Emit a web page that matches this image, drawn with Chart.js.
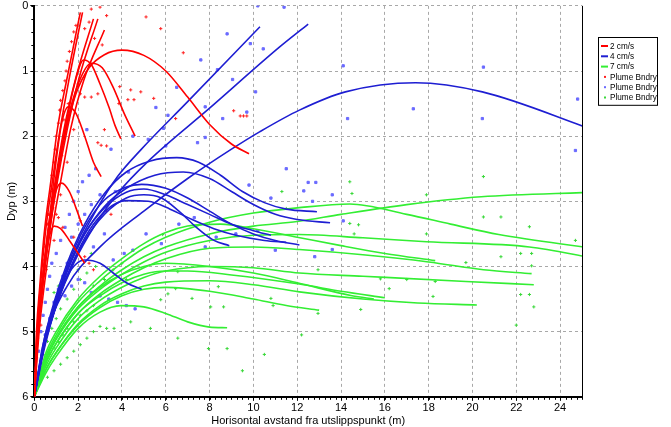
<!DOCTYPE html>
<html>
<head>
<meta charset="utf-8">
<script src="https://cdn.jsdelivr.net/npm/chart.js@4.4.1/dist/chart.umd.min.js"></script>
<style>
  html, body { margin: 0; padding: 0; background: #fff; }
</style>
</head>
<body>
<canvas id="plume" width="671" height="427"></canvas>
<script>
// horisontal avstand (m), dyp (m)
const red2cms = [
  [[0,6],[0.1,5],[0.25,4.3],[0.45,3.5],[0.75,2.7],[1.05,1.9],[1.5,1.1],[2.1,0.1]],
  [[0,6],[0.12,5],[0.28,4.3],[0.5,3.5],[0.8,2.75],[1.15,1.95],[1.6,1.1],[2.2,0.1]],
  [[0,6],[0.15,5],[0.33,4.3],[0.6,3.5],[0.95,2.7],[1.35,1.9],[1.9,1.1],[2.7,0.2]],
  [[0,6],[0.18,5],[0.38,4.3],[0.68,3.5],[1.05,2.7],[1.5,1.9],[2.05,1.1],[2.9,0.2]],
  [[0,6],[0.22,5],[0.45,4.3],[0.78,3.5],[1.2,2.7],[1.65,1.9],[2.25,1.15],[3.2,0.37]],
  [[0,6],[0.18,5],[0.38,4.3],[0.68,3.5],[1.02,2.7],[1.42,1.95],[1.9,1.35],[2.5,0.95],[3.2,0.75],[4,0.68],[5,0.76],[6,1.0],[7,1.4],[8,1.82],[9,2.12],[9.8,2.27]],
  [[0,6],[0.15,5],[0.35,4.3],[0.62,3.5],[0.98,2.7],[1.4,1.9],[1.8,1.25],[2.25,0.83],[2.6,0.9],[3.0,1.2],[3.4,1.55],[3.7,1.85],[3.95,2.04]],
  [[0,6],[0.17,5],[0.37,4.3],[0.65,3.5],[1.0,2.7],[1.45,1.85],[2.0,1.2],[2.6,0.88],[3.1,0.95],[3.6,1.25],[4.1,1.65],[4.6,2.0]],
  [[0,6],[0.15,5],[0.35,4.3],[0.62,3.5],[0.95,2.5],[1.25,1.8],[1.55,1.55],[1.9,1.65],[2.3,2.0],[2.7,2.4],[3.05,2.62]],
  [[0,6],[0.15,5],[0.4,4.2],[0.7,3.4],[0.98,2.85],[1.25,2.72],[1.6,2.85],[1.9,3.1],[2.2,3.38]],
  [[0,6],[0.15,5],[0.4,4.2],[0.65,3.6],[0.9,3.38],[1.2,3.42],[1.6,3.6],[2.0,3.8],[2.3,3.95]]
];

const blue4cms = [
  [[0,6],[0.4,5.2],[1,4.5],[1.8,3.8],[2.8,3.15],[3.8,2.62],[4.86,2.21],[7,1.47],[10.3,0.32]],
  [[0,6],[0.4,5.25],[1,4.6],[1.8,3.95],[2.8,3.35],[3.8,2.88],[5.18,2.39],[8,1.57],[11.2,0.63],[12.5,0.28]],
  [[0,6],[0.6,5.0],[1.5,4.3],[3,3.7],[5,3.15],[7,2.65],[9,2.2],[10.3,1.93],[12.1,1.6],[14.2,1.32],[17.4,1.18],[20.45,1.32],[25.5,1.9]],
  [[0,6],[0.4,5.2],[0.9,4.55],[1.5,3.95],[2.3,3.35],[3.2,2.88],[4.2,2.55],[5.3,2.38],[6.5,2.33],[7.5,2.4],[8.5,2.6],[9.5,2.85],[10.5,3.02],[11.5,3.12],[12.9,3.16]],
  [[0,6],[0.4,5.25],[0.9,4.6],[1.5,4.05],[2.3,3.5],[3.2,3.08],[4.2,2.8],[5.5,2.6],[6.8,2.55],[8,2.65],[9,2.85],[10,3.05],[11,3.2],[12,3.28],[13.5,3.33]],
  [[0,6],[0.4,5.25],[0.9,4.6],[1.5,4.0],[2.3,3.4],[3.2,2.98],[4.2,2.78],[4.9,2.74],[6,2.8],[7,2.95],[8,3.15],[9,3.35],[10,3.5],[11,3.6],[12.1,3.67]],
  [[0,6],[0.4,5.3],[0.9,4.7],[1.5,4.15],[2.3,3.6],[3.2,3.2],[4.2,2.95],[5,2.9],[5.8,2.95],[6.6,3.15],[7.4,3.4],[8.2,3.6],[8.9,3.68]],
  [[0,6],[0.4,5.25],[0.9,4.65],[1.5,4.08],[2.3,3.5],[3.2,3.1],[4.2,2.86],[5,2.81],[6,2.9],[7,3.05],[8,3.2],[9,3.35],[10,3.45],[10.8,3.52]],
  [[0,6],[0.5,5.2],[1,4.6],[1.7,3.98],[2.5,3.45],[3.3,3.13],[4.2,2.99],[5.2,3.0],[6.2,3.12],[7.2,3.28],[8.2,3.42],[9.2,3.52],[10.5,3.6],[11.5,3.63]],
  [[0,6],[0.4,5.3],[0.9,4.7],[1.5,4.15],[2.3,3.9],[3,3.95],[3.6,4.1],[4.2,4.25],[4.9,4.35]]
];

const green7cms = [
  [[0,6],[0.5,5.45],[1,5.1],[2,4.62],[3,4.3],[4,4.05],[5,3.85],[6,3.7],[8,3.5],[10,3.38],[12,3.31],[14,3.2],[17,3.05],[20.4,2.93],[25.5,2.86]],
  [[0,6],[0.5,5.4],[1,5.05],[2,4.55],[3,4.22],[4,3.95],[5,3.72],[6,3.55],[8,3.32],[10,3.18],[12,3.1],[14.4,3.04],[17,3.2],[19,3.35],[21.2,3.51],[25.5,3.72]],
  [[0,6],[0.5,5.45],[1,5.12],[2,4.65],[3,4.35],[4,4.12],[5,3.93],[6,3.78],[8,3.6],[10,3.52],[12.1,3.51],[15,3.56],[17.9,3.62],[22.6,3.7],[25.5,3.87]],
  [[0,6],[0.5,5.5],[1,5.18],[2,4.72],[3,4.42],[4,4.2],[5,4.02],[6,3.88],[8,3.72],[10,3.7],[12.1,3.74],[15,3.82],[18,3.93],[20.5,4.05],[22.7,4.11]],
  [[0,6],[0.5,5.55],[1,5.25],[2,4.8],[3,4.52],[4,4.32],[5,4.17],[6,4.07],[8,4.0],[10,4.02],[12.1,4.1],[15,4.15],[19.7,4.23],[22.8,4.28]],
  [[0,6],[0.5,5.6],[1,5.32],[2,4.88],[3,4.6],[4,4.42],[5,4.3],[6,4.24],[8,4.22],[10,4.28],[12.1,4.39],[15,4.5],[17.5,4.56],[20.2,4.59]],
  [[0,6],[0.5,5.35],[1,5.0],[2,4.5],[3,4.15],[4,3.88],[5,3.65],[6,3.48],[7,3.38],[8.5,3.35],[10,3.42],[12,3.55],[14,3.68],[16,3.8],[18.3,3.91]],
  [[0,6],[0.5,5.5],[1,5.18],[2,4.72],[3,4.45],[4,4.25],[5,4.12],[6,4.07],[7,4.07],[9,4.13],[12.1,4.27],[14,4.38],[16,4.48]],
  [[0,6],[0.5,5.6],[1,5.32],[2,4.9],[3,4.63],[4,4.45],[5,4.35],[6,4.32],[8,4.38],[10,4.5],[11.5,4.6],[13,4.67]],
  [[0,6],[0.5,5.65],[1,5.38],[2,4.95],[3,4.7],[3.95,4.6],[5,4.62],[6,4.72],[7,4.85],[8,4.93],[8.8,4.94]],
  [[0,6],[0.5,5.45],[1,5.1],[2,4.62],[3,4.32],[4,4.12],[5,4.0],[6,3.95],[8,4.0],[10,4.1],[12,4.25],[14.5,4.45],[15.5,4.5]]
];

const redBndry = [[0.05,5.7],[0.1,5.4],[0.15,5.1],[0.2,4.8],[0.25,4.6],[0.3,4.9],[0.35,4.4],[0.4,4.15],[0.45,3.9],[0.5,3.7],[0.55,4.05],[0.6,3.35],[0.65,3.2],[0.7,3.0],[0.75,2.85],[0.8,2.6],[0.85,3.1],[0.9,2.4],[0.95,2.2],[1.0,2.0],[1.05,2.6],[1.1,1.8],[1.15,1.6],[1.2,1.45],[1.25,2.3],[1.3,1.3],[1.35,1.75],[1.4,1.15],[1.45,1.0],[1.5,0.85],[1.55,1.5],[1.6,0.7],[1.7,0.55],[1.8,0.4],[1.9,0.3],[2.0,1.2],[2.1,1.35],[2.3,0.35],[2.5,0.25],[2.6,0.05],[2.75,0.5],[3.0,0.02],[3.1,0.6],[3.3,0.15],[1.0,3.2],[1.1,3.25],[1.2,2.9],[0.9,3.6],[1.5,2.4],[1.8,1.9],[2.3,1.4],[2.6,1.4],[2.9,1.35],[3.2,1.9],[3.9,1.24],[4.27,1.44],[4.55,1.44],[3.86,1.5],[4.4,1.29],[4.86,1.32],[5.45,1.42],[2.9,2.1],[3.05,2.14],[3.3,2.15],[5.1,0.17],[5.77,0.35],[6.8,0.72],[6.45,1.73],[9.1,1.61],[9.4,1.69],[9.55,1.69],[9.7,1.69],[2.3,3.85],[2.5,3.95],[2.7,4.05],[1.8,3.55],[2.1,3.3],[1.3,3.4],[3.3,3.15],[3.5,3.2]];

const blueBndry = [[0.2,5.3],[0.3,5.0],[0.4,4.75],[0.5,4.55],[0.6,4.35],[0.7,4.15],[0.8,3.95],[0.5,5.05],[0.7,4.8],[0.9,4.55],[1.1,4.35],[1.3,4.15],[1.5,3.95],[1.0,3.8],[1.2,3.6],[1.4,3.4],[1.6,3.2],[1.8,3.0],[2.0,2.85],[2.2,2.7],[2.5,2.6],[2.8,2.5],[1.7,3.55],[2.0,3.35],[2.3,3.2],[2.6,3.05],[3.0,2.9],[1.4,4.45],[1.7,4.3],[2.0,4.2],[2.3,4.25],[2.6,4.4],[3.0,4.45],[3.4,4.5],[3.8,4.55],[4.2,4.6],[4.6,4.65],[3.6,3.9],[4.1,3.8],[4.5,3.75],[2.7,3.7],[3.2,3.5],[5.1,3.5],[5.8,3.65],[6.6,3.35],[7.3,3.25],[7.8,3.7],[8.3,3.55],[9.2,3.5],[10.2,3.45],[11.0,3.75],[9.8,2.75],[10.8,2.95],[11.5,2.5],[3.5,2.2],[4.5,2.0],[5.2,2.05],[6.0,2.15],[5.55,1.56],[6.1,1.68],[5.9,1.88],[7.8,2.02],[7.45,2.1],[8.6,1.73],[7.8,1.55],[9.7,1.63],[10.1,1.32],[9.05,1.13],[8.36,0.98],[7.6,0.83],[9.86,0.58],[10.45,0.66],[8.8,0.43],[10.2,0.0],[11.4,0.02],[14.1,0.92],[20.5,0.94],[17.3,1.58],[14.3,1.73],[20.45,1.73],[24.8,1.43],[24.7,2.22],[12.5,2.71],[12.85,2.71],[12.3,2.84],[13.6,2.9],[12.7,3.0],[12.8,3.85],[13.6,3.74],[14.1,3.3],[6.5,1.25],[4.3,2.55],[3.7,2.85],[2.4,1.9]];

const greenBndry = [[0.3,5.65],[0.5,5.5],[0.7,5.35],[0.9,5.25],[1.1,5.15],[1.3,5.05],[1.5,4.95],[1.8,4.85],[2.1,4.75],[2.4,4.68],[2.7,4.6],[0.4,5.35],[0.6,5.15],[0.8,4.95],[1.0,4.8],[1.2,4.65],[1.5,4.5],[1.8,4.35],[2.1,4.2],[2.4,4.1],[2.8,4.0],[0.6,5.7],[0.9,5.6],[1.2,5.5],[1.5,5.4],[1.8,5.3],[2.1,5.2],[2.4,5.1],[2.7,5.0],[3.0,4.92],[3.3,4.95],[3.64,4.95],[4.4,4.85],[5.3,4.95],[3.2,4.2],[3.6,4.05],[4.0,3.95],[2.7,4.3],[0.9,4.4],[1.1,4.3],[1.4,4.15],[6.55,5.1],[7.95,5.26],[8.8,5.26],[8.64,4.62],[8.05,4.62],[5.86,3.51],[11.3,2.85],[11.5,3.11],[12.95,4.72],[10.8,4.49],[10.9,4.6],[8.4,4.31],[7.2,4.49],[6.1,4.42],[5.77,4.51],[6.45,4.34],[6.55,4.08],[14.4,2.7],[20.5,2.62],[14.5,2.88],[17.9,2.9],[14.4,3.34],[14.8,3.36],[17.9,3.5],[20.5,3.24],[21.3,3.24],[22.6,3.39],[14.6,3.5],[21.3,3.85],[22.2,3.8],[22.7,3.8],[22.7,3.99],[22.2,4.43],[22.6,4.43],[22.8,4.62],[19.7,3.94],[18.2,4.46],[18.3,4.23],[16.2,4.34],[15.8,4.19],[17.0,4.2],[14.9,4.66],[12.95,4.05],[9.5,5.6],[10.5,5.35],[12.2,5.05],[4.2,4.2],[3.0,4.45],[2.0,4.05],[1.6,3.9],[2.6,3.8],[22,4.9],[24.7,3.6]];

const seriesNames = ['2 cm/s', '4 cm/s', '7 cm/s'];
const bndryName = 'Plume Bndry';

const RED = '#ff0000', BLUE = '#1e1ed2', GREEN = '#33ee33';

const toXY = pts => pts.map(p => ({ x: p[0], y: p[1] }));

function lineSets(curves, name, color) {
  return curves.map((c, i) => ({
    type: 'line',
    label: i === 0 ? name : '',
    inLegend: i === 0,
    kind: 'line',
    data: toXY(c),
    borderColor: color,
    borderWidth: 1.6,
    pointRadius: 0,
    cubicInterpolationMode: 'monotone',
    fill: false
  }));
}

function bndrySet(pts, color, style) {
  return {
    type: 'scatter',
    label: bndryName,
    inLegend: true,
    kind: 'point',
    data: toXY(pts),
    borderColor: color,
    backgroundColor: color,
    pointStyle: style,
    pointRadius: 1.6,
    borderWidth: 1
  };
}

const datasets = [
  ...lineSets(red2cms, seriesNames[0], RED),
  ...lineSets(blue4cms, seriesNames[1], BLUE),
  ...lineSets(green7cms, seriesNames[2], GREEN),
  bndrySet(redBndry, '#ff2020', 'cross'),
  bndrySet(blueBndry, '#6a6aff', 'rect'),
  bndrySet(greenBndry, '#3ad83a', 'cross')
];
// legend order: lines first, then the boundary points
const legendOrder = datasets.filter(d => d.inLegend);

const frame = {
  id: 'frame',
  afterDraw(chart) {
    const { ctx, chartArea: a, scales } = chart;
    ctx.save();
    ctx.strokeStyle = '#000';
    ctx.lineWidth = 1;
    ctx.beginPath();
    ctx.moveTo(a.right + 0.5, a.top);
    ctx.lineTo(a.right + 0.5, a.bottom);
    // minor ticks
    for (let v = 0; v <= 25.001; v += 0.25) {
      const px = Math.round(scales.x.getPixelForValue(v)) + 0.5;
      ctx.moveTo(px, a.bottom);
      ctx.lineTo(px, a.bottom + 3);
    }
    for (let v = 0; v <= 6.001; v += 0.2) {
      const py = Math.round(scales.y.getPixelForValue(v)) + 0.5;
      ctx.moveTo(a.left - 3, py);
      ctx.lineTo(a.left, py);
    }
    ctx.stroke();

    // legend box
    const bx = a.right + 16, by = 37, rowH = 10.3;
    const bw = 59, bh = legendOrder.length * rowH + 6;
    ctx.fillStyle = '#fff';
    ctx.fillRect(bx, by, bw, bh);
    ctx.strokeStyle = '#000';
    ctx.strokeRect(bx + 0.5, by + 0.5, bw, bh);
    ctx.font = '8.2px "Liberation Sans", Arial, sans-serif';
    ctx.textBaseline = 'middle';
    legendOrder.forEach((d, i) => {
      const cy = by + 9 + i * rowH;
      if (d.kind === 'line') {
        ctx.strokeStyle = d.borderColor;
        ctx.lineWidth = 2;
        ctx.beginPath();
        ctx.moveTo(bx + 3, cy);
        ctx.lineTo(bx + 10, cy);
        ctx.stroke();
      } else {
        ctx.fillStyle = d.borderColor;
        ctx.fillRect(bx + 6, cy - 1, 2, 2);
      }
      ctx.fillStyle = '#000';
      ctx.fillText(d.label, bx + 12, cy + 0.5);
    });
    ctx.restore();
  }
};

const tickFont = { family: '"Liberation Sans", Arial, sans-serif', size: 11 };

new Chart(document.getElementById('plume'), {
  data: { datasets },
  options: {
    responsive: false,
    animation: false,
    devicePixelRatio: 1,
    layout: { padding: { top: 4, right: 89, bottom: 0, left: 5 } },
    plugins: {
      legend: { display: false },
      tooltip: { enabled: false }
    },
    scales: {
      x: {
        type: 'linear',
        min: 0,
        max: 25,
        ticks: { stepSize: 2, includeBounds: false, color: '#000', font: { ...tickFont, lineHeight: 1.1 }, padding: 1, maxRotation: 0 },
        grid: { color: '#a8a8a8', lineWidth: 1, tickLength: 4, tickColor: '#000', tickBorderDash: [] },
        border: { display: true, color: '#000', width: 2, dash: [3, 3] },
        title: { display: true, text: 'Horisontal avstand fra utslippspunkt (m)', color: '#000', font: { ...tickFont, lineHeight: 1.1 }, padding: { top: 0, bottom: 0 } }
      },
      y: {
        type: 'linear',
        min: 0,
        max: 6,
        reverse: true,
        ticks: { stepSize: 1, color: '#000', font: { ...tickFont, lineHeight: 0.7 }, padding: 2 },
        grid: { color: '#a8a8a8', lineWidth: 1, tickLength: 4, tickColor: '#000', tickBorderDash: [] },
        border: { display: true, color: '#000', width: 2, dash: [3, 3] },
        title: { display: true, text: 'Dyp (m)', color: '#000', font: tickFont, padding: { top: 0, bottom: 2 } }
      }
    }
  },
  plugins: [frame]
});
</script>
</body>
</html>
